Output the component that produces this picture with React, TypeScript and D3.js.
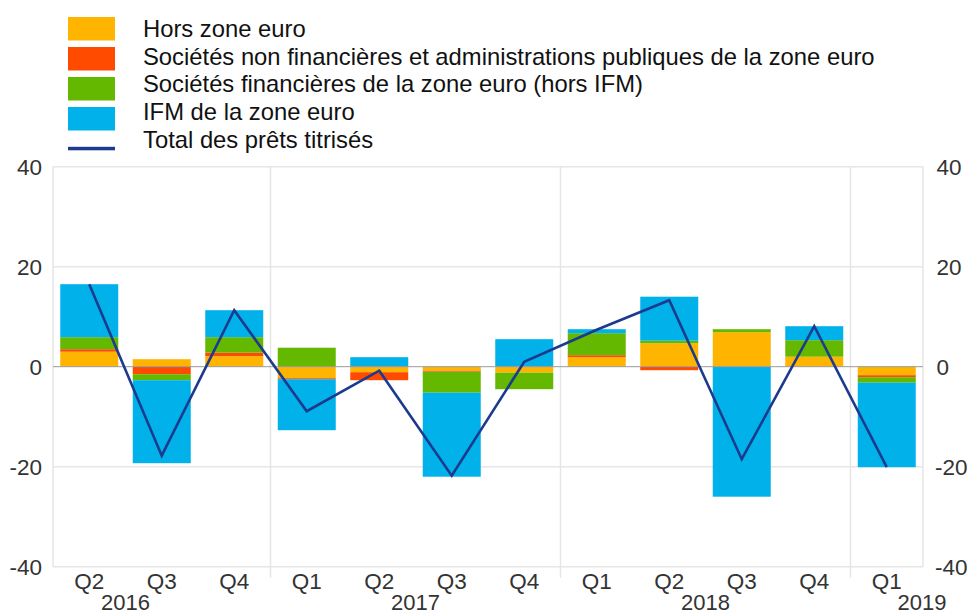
import React from "react";
import * as d3 from "d3";

// quarters shown on the x axis
const quarters = ["Q2", "Q3", "Q4", "Q1", "Q2", "Q3", "Q4", "Q1", "Q2", "Q3", "Q4", "Q1"];
const years = [
  { label: "2016", from: -1, to: 2 },
  { label: "2017", from: 3, to: 6 },
  { label: "2018", from: 7, to: 10 },
  { label: "2019", from: 11, to: 14 },
];

// components (stacked bars)
const horsZone = [3.0, 1.5, 2.1, -2.3, -1.1, -0.8, -1.2, 1.9, 4.7, 6.9, 2.0, -1.7];
const snfApu = [0.5, -1.5, 0.7, -0.2, -1.6, -0.2, 0.0, 0.4, -0.7, 0.0, 0.0, -0.4];
const socFin = [2.4, -1.2, 3.1, 3.8, 0.0, -4.2, -3.3, 4.4, 0.5, 0.6, 3.3, -1.1];
const ifm = [10.6, -16.6, 5.4, -10.2, 1.9, -16.8, 5.5, 0.8, 8.8, -26.0, 2.8, -16.9];
// total line
const total = [16.5, -17.8, 11.3, -8.9, -0.8, -21.8, 1.0, 7.4, 13.3, -18.5, 8.1, -20.1];

const yTicks = [-40, -20, 0, 20, 40];

const seriesNames = [
  "Hors zone euro",
  "Sociétés non financières et administrations publiques de la zone euro",
  "Sociétés financières de la zone euro (hors IFM)",
  "IFM de la zone euro",
];
const colors = ["#FFB400", "#FF4B00", "#65B800", "#00B1EA"];
const lineColor = "#1c3a8e";

export default function App() {
  const width = 968,
    height = 615;
  const left = 53,
    right = 923,
    top = 166.7,
    bottom = 566.7;

  const x = d3
    .scaleBand<number>()
    .domain(d3.range(quarters.length))
    .range([left, right])
    .paddingInner(0.2)
    .paddingOuter(0.1);
  const step = x.step();
  const y = d3.scaleLinear().domain([-40, 40]).range([bottom, top]);

  const rows = quarters.map((_, i) => ({
    a: horsZone[i],
    b: snfApu[i],
    c: socFin[i],
    d: ifm[i],
  }));
  const stacked = d3
    .stack<any>()
    .keys(["a", "b", "c", "d"])
    .offset(d3.stackOffsetDiverging)(rows);

  const line = d3
    .line<number>()
    .x((_, i) => (x(i) as number) + x.bandwidth() / 2)
    .y((d) => y(d));

  const font = "'Liberation Sans', Arial, sans-serif";
  const boundaries = [3, 7, 11];

  return (
    <svg
      width={width}
      height={height}
      style={{ position: "absolute", left: 0, top: 0, background: "#fff" }}
      fontFamily={font}
    >
      {/* legend */}
      {seriesNames.map((name, i) => (
        <g key={name}>
          <rect x={68} y={17 + i * 30} width={47} height={23.5} fill={colors[i]} />
          <text x={143} y={37.2 + i * 27.6} fontSize={23.8} fill="#111">
            {name}
          </text>
        </g>
      ))}
      <rect x={68} y={146.8} width={47} height={3.5} fill={lineColor} />
      <text x={143} y={37.2 + 4 * 27.6} fontSize={23.8} fill="#111">
        Total des prêts titrisés
      </text>

      {/* grid */}
      {yTicks
        .filter((t) => t !== 0)
        .map((t) => (
          <line key={t} x1={left} x2={right} y1={y(t)} y2={y(t)} stroke="#e6e6e6" strokeWidth={1.5} />
        ))}
      <line x1={left} x2={left} y1={top} y2={bottom} stroke="#e6e6e6" strokeWidth={1.5} />
      <line x1={right} x2={right} y1={top} y2={bottom} stroke="#e6e6e6" strokeWidth={1.5} />
      {boundaries.map((b) => {
        const bx = left + step * b;
        return <line key={b} x1={bx} x2={bx} y1={top} y2={bottom + 11} stroke="#e6e6e6" strokeWidth={1.5} />;
      })}

      {/* bars */}
      {stacked.map((s, si) => (
        <g key={si} fill={colors[si]}>
          {s.map((d, i) =>
            d[1] - d[0] === 0 ? null : (
              <rect
                key={i}
                x={x(i)}
                width={x.bandwidth()}
                y={y(Math.max(d[0], d[1]))}
                height={Math.abs(y(d[0]) - y(d[1]))}
              />
            )
          )}
        </g>
      ))}

      <line x1={left} x2={right} y1={y(0)} y2={y(0)} stroke="#9a9a9a" strokeWidth={1} />

      <path d={line(total) || ""} fill="none" stroke={lineColor} strokeWidth={2.6} />

      {/* y axes */}
      {yTicks.map((t) => (
        <g key={t} fontSize={22.5} fill="#333">
          <text x={42} y={y(t) + 7.8} textAnchor="end">
            {t}
          </text>
          <text x={t < 0 ? 935 : 936.5} y={y(t) + 7.8} textAnchor="start">
            {t}
          </text>
        </g>
      ))}

      {/* x axis */}
      {quarters.map((q, i) => (
        <text
          key={i}
          x={(x(i) as number) + x.bandwidth() / 2}
          y={589}
          fontSize={22.5}
          fill="#333"
          textAnchor="middle"
        >
          {q}
        </text>
      ))}
      {years.map((yr) => {
        const cx = left + step * ((yr.from + yr.to + 1) / 2);
        return (
          <text key={yr.label} x={Math.min(cx, right - 1)} y={610} fontSize={22} fill="#333" textAnchor="middle">
            {yr.label}
          </text>
        );
      })}
    </svg>
  );
}
